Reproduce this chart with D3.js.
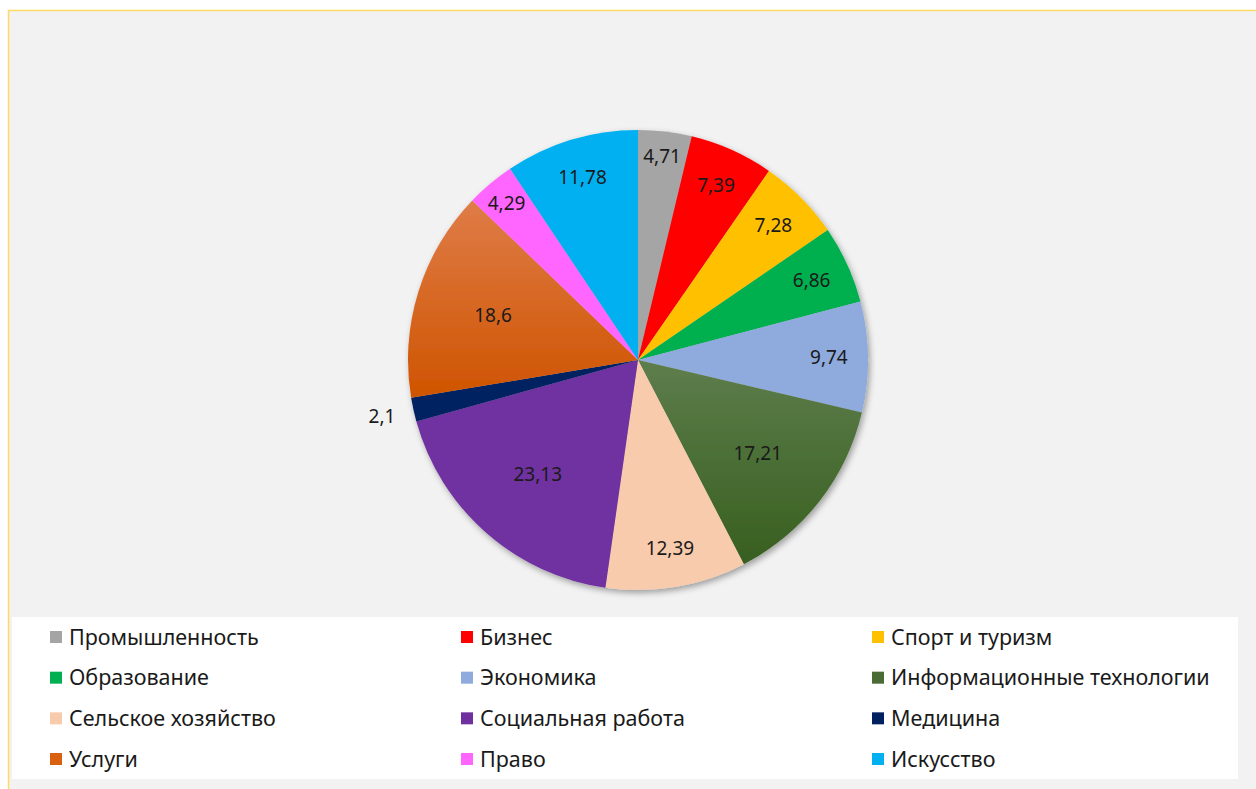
<!DOCTYPE html>
<html>
<head>
<meta charset="utf-8">
<style>
    body { margin: 0; background: #ffffff; }
    svg { display: block; }
    .slice-label { font-family: "Noto Sans", sans-serif; font-size: 19px; fill: #1a1a1a; }
    .legend-label { font-family: "Noto Sans", sans-serif; font-size: 21.5px; fill: #1a1a1a; }
</style>
<script src="https://d3js.org/d3.v7.min.js"></script>
</head>
<body>

<svg width="1256" height="789"></svg>

<script>

    // categories in clockwise order, starting at 12 o'clock
    var categories = ["Промышленность", "Бизнес", "Спорт и туризм", "Образование", "Экономика",
        "Информационные технологии", "Сельское хозяйство", "Социальная работа", "Медицина",
        "Услуги", "Право", "Искусство"];
    var values = [4.71, 7.39, 7.28, 6.86, 9.74, 17.21, 12.39, 23.13, 2.1, 18.6, 4.29, 11.78];
    var colors = ["#a5a5a5", "#ff0000", "#ffc000", "#00b050", "#8faadc", "url(#grad-it)",
        "#f8cbad", "#7030a0", "#002060", "url(#grad-services)", "#ff66ff", "#00b0f0"];
    var legendColors = ["#a5a5a5", "#ff0000", "#ffc000", "#00b050", "#8faadc", "#4a6b34",
        "#f8cbad", "#7030a0", "#002060", "#d8600f", "#ff66ff", "#00b0f0"];

    var svg = d3.select("svg");
    var defs = svg.append("defs");

    // gradients like the office fill
    function addGradient(id, top, bottom) {
        var g = defs.append("linearGradient").attr("id", id)
            .attr("x1", 0).attr("y1", 0).attr("x2", 0).attr("y2", 1);
        g.append("stop").attr("offset", "0%").attr("stop-color", top);
        g.append("stop").attr("offset", "100%").attr("stop-color", bottom);
    }
    addGradient("grad-it", "#5e7d4c", "#375f1f");
    addGradient("grad-services", "#df7c48", "#cf5400");

    var shadow = defs.append("filter").attr("id", "pie-shadow")
        .attr("x", "-10%").attr("y", "-10%").attr("width", "120%").attr("height", "120%");
    shadow.append("feDropShadow").attr("dx", 2).attr("dy", 3)
        .attr("stdDeviation", 3).attr("flood-color", "#000").attr("flood-opacity", 0.35);

    // chart area background + frame
    svg.append("rect")
        .attr("x", 8.5).attr("y", 10.5).attr("width", 1260).attr("height", 790)
        .attr("fill", "#f2f2f2").attr("stroke", "#ffd966").attr("stroke-width", 1.5);

    var cx = 638, cy = 360, R = 230;

    var pie = d3.pie().sort(null).value(function (d) { return d; });
    var arcs = pie(values);
    var arc = d3.arc().innerRadius(0).outerRadius(R);

    var plotArea = svg.append("g").attr("transform", "translate(" + cx + "," + cy + ")");

    plotArea.append("g").attr("filter", "url(#pie-shadow)")
        .selectAll("path")
        .data(arcs)
        .enter()
        .append("path")
        .attr("d", arc)
        .attr("fill", function (d, i) { return colors[i]; });

    // best-fit-ish label placement
    function labelRadius(d) {
        var frac = (d.endAngle - d.startAngle) / (2 * Math.PI);
        if (frac < 0.02) return R * 1.14;
        if (frac < 0.045) return R * 0.89;
        if (frac > 0.13) return R * 0.66;
        return R * 0.83;
    }

    plotArea.selectAll(".slice-label")
        .data(arcs)
        .enter()
        .append("text")
        .attr("class", "slice-label")
        .attr("text-anchor", "middle")
        .attr("dy", "0.35em")
        .attr("transform", function (d) {
            var r = labelRadius(d);
            var a = (d.startAngle + d.endAngle) / 2;
            return "translate(" + (r * Math.sin(a)) + "," + (-r * Math.cos(a)) + ")";
        })
        .text(function (d) { return String(d.data).replace(".", ","); });

    // legend
    svg.append("rect")
        .attr("x", 12).attr("y", 617).attr("width", 1226).attr("height", 162)
        .attr("fill", "#ffffff");

    var colX = d3.scaleOrdinal().domain([0, 1, 2]).range([50, 461, 872]);
    var rowY = d3.scalePoint().domain([0, 1, 2, 3]).range([637, 759]);

    var legend = svg.selectAll(".legend-item")
        .data(categories)
        .enter()
        .append("g")
        .attr("class", "legend-item")
        .attr("transform", function (d, i) {
            return "translate(" + colX(i % 3) + "," + rowY(Math.floor(i / 3)) + ")";
        });

    legend.append("rect")
        .attr("x", 0).attr("y", -6).attr("width", 12).attr("height", 12)
        .attr("fill", function (d, i) { return legendColors[i]; });

    legend.append("text")
        .attr("class", "legend-label")
        .attr("x", 19)
        .attr("dy", "0.35em")
        .text(function (d) { return d; });

</script>
</body>
</html>
